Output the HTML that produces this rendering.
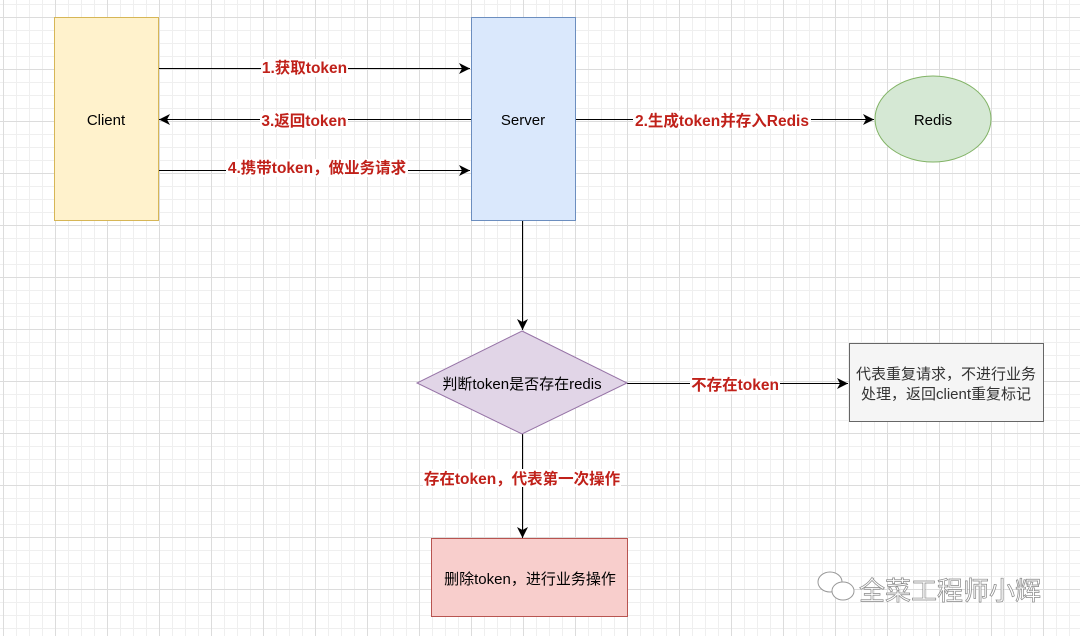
<!DOCTYPE html>
<html><head><meta charset="utf-8"><style>
html,body{margin:0;padding:0;background:#fff}
svg{display:block}
text{font-family:"Liberation Sans","Noto Sans CJK SC",sans-serif}
</style></head><body>
<svg width="1080" height="636" viewBox="0 0 1080 636" xmlns="http://www.w3.org/2000/svg">
<defs>
<pattern id="minor" x="3" y="4" width="13" height="13" patternUnits="userSpaceOnUse">
<path d="M0 0.5H13M0.5 0V13" stroke="#efefef" stroke-width="1" fill="none"/>
</pattern>
<pattern id="major" x="3" y="17" width="52" height="52" patternUnits="userSpaceOnUse">
<path d="M0 0.5H52M0.5 0V52" stroke="#dcdcdc" stroke-width="1" fill="none"/>
</pattern>
<marker id="ar" markerWidth="12" markerHeight="12" refX="11" refY="6" orient="auto" markerUnits="userSpaceOnUse">
<path d="M0 0.5L11 6L0 11.5L3 6Z" fill="#000"/>
</marker>
</defs>
<rect width="1080" height="636" fill="url(#minor)"/>
<rect width="1080" height="636" fill="url(#major)"/>

<rect x="54.5" y="17.5" width="104" height="203" fill="#fff2cc" stroke="#d6b656"/>
<text x="106" y="125" font-size="15" text-anchor="middle">Client</text>
<rect x="471.5" y="17.5" width="104" height="203" fill="#dae8fc" stroke="#6c8ebf"/>
<text x="523" y="125" font-size="15" text-anchor="middle">Server</text>
<ellipse cx="933" cy="119" rx="58" ry="43" fill="#d5e8d4" stroke="#82b366"/>
<text x="933" y="125" font-size="15" text-anchor="middle">Redis</text>

<line x1="159" y1="68.5" x2="470" y2="68.5" stroke="#000" marker-end="url(#ar)"/>
<line x1="471" y1="119.5" x2="159" y2="119.5" stroke="#000" marker-end="url(#ar)"/>
<line x1="159" y1="170.5" x2="470" y2="170.5" stroke="#000" marker-end="url(#ar)"/>
<line x1="576" y1="119.5" x2="874" y2="119.5" stroke="#000" marker-end="url(#ar)"/>
<line x1="522.5" y1="221" x2="522.5" y2="330" stroke="#000" marker-end="url(#ar)"/>
<line x1="627" y1="383.5" x2="848" y2="383.5" stroke="#000" marker-end="url(#ar)"/>
<line x1="522.5" y1="434" x2="522.5" y2="538" stroke="#000" marker-end="url(#ar)"/>

<g font-size="15.5" font-weight="bold" fill="#c0211a" text-anchor="middle">
<rect x="261" y="59" width="87" height="18" fill="#fff"/>
<text x="304.5" y="73">1.获取token</text>
<rect x="260" y="111" width="88" height="18" fill="#fff"/>
<text x="304" y="126">3.返回token</text>
<rect x="226" y="159" width="182" height="18" fill="#fff"/>
<text x="317" y="173">4.携带token，做业务请求</text>
<rect x="633" y="111" width="178" height="18" fill="#fff"/>
<text x="722" y="126">2.生成token并存入Redis</text>
<rect x="690" y="376" width="90" height="18" fill="#fff"/>
<text x="735" y="390">不存在token</text>
<rect x="423" y="469" width="198" height="18" fill="#fff"/>
<text x="522" y="484">存在token，代表第一次操作</text>
</g>

<polygon points="522,331 627,383 522,434 417,383" fill="#e1d5e7" stroke="#9673a6"/>
<text x="522" y="389" font-size="15" text-anchor="middle">判断token是否存在redis</text>
<rect x="849.5" y="343.5" width="194" height="78" fill="#f5f5f5" stroke="#666"/>
<text x="946" y="379" font-size="15" text-anchor="middle" fill="#333">代表重复请求，不进行业务</text>
<text x="946" y="399" font-size="15" text-anchor="middle" fill="#333">处理，返回client重复标记</text>
<rect x="431.5" y="538.5" width="196" height="78" fill="#f8cecc" stroke="#b85450"/>
<text x="530" y="584" font-size="15" text-anchor="middle">删除token，进行业务操作</text>

<g fill="#fff" stroke="#999" stroke-width="1">
<ellipse cx="830" cy="582" rx="12" ry="10"/>
<ellipse cx="843" cy="591" rx="11" ry="9"/>
</g>
<text x="859" y="600" font-size="26" fill="#fff" stroke="#888" stroke-width="0.7">全菜工程师小辉</text>
</svg>
</body></html>
